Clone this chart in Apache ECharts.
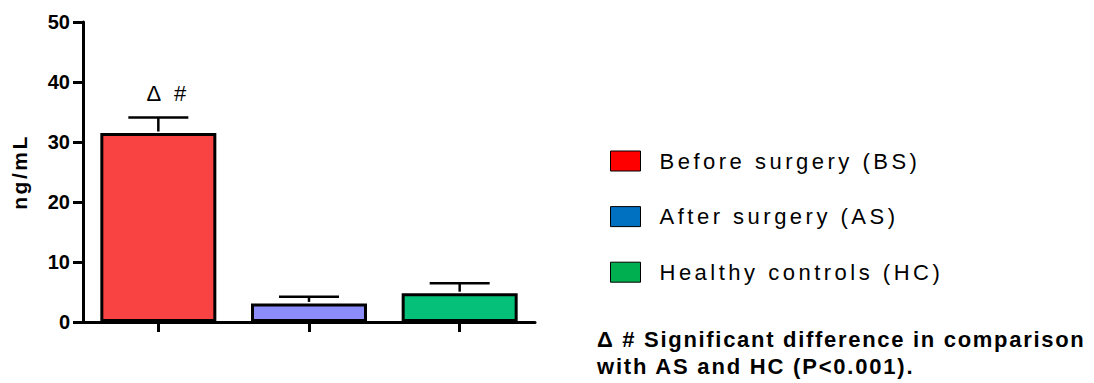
<!DOCTYPE html>
<html>
<head>
<meta charset="utf-8">
<script src="https://cdn.jsdelivr.net/npm/echarts@6/dist/echarts.min.js"></script>
<style>html,body{margin:0;padding:0;background:#fff}#c{width:1094px;height:383px}</style>
</head>
<body>
<div id="c"></div>
<script>
var categories = ['BS', 'AS', 'HC'];
var seriesNames = ['Before surgery (BS)', 'After surgery (AS)', 'Healthy controls (HC)'];
var means = [31.5, 3.1, 4.8];
var upperErr = [34.1, 4.2, 6.45];
var annotations = ['\u0394 #', '', ''];
var yTicks = [0, 10, 20, 30, 40, 50];
var barColors = ['#F94343', '#8C8CFB', '#05C079'];
var legendColors = ['#FF0000', '#0070C0', '#00B050'];
var footnoteLines = ['\u0394 # Significant difference in comparison', 'with AS and HC (P<0.001).'];

var FONT = '"Liberation Sans", Arial, sans-serif';
var chart = echarts.init(document.getElementById('c'), null, { renderer: 'svg' });
var barSeries = seriesNames.map(function (name, i) {
  return {
    name: name,
    type: 'bar',
    barWidth: 116,
    barGap: '-100%',
    itemStyle: { color: barColors[i], borderColor: '#000', borderWidth: 3 },
    data: categories.map(function (c, j) { return j === i ? means[j] : '-'; }),
    z: 2
  };
});
var errData = categories.map(function (c, i) { return [i, means[i], upperErr[i], annotations[i]]; });

chart.setOption({
  animation: false,
  grid: { left: 83, right: 559, top: 22, bottom: 61, containLabel: false },
  legend: {
    orient: 'vertical', left: 610, top: 150, padding: 0,
    itemWidth: 30, itemHeight: 20, itemGap: 33.6,
    icon: 'rect',
    textStyle: { fontFamily: FONT, fontSize: 22, color: '#000', padding: [0, 0, 0, 14] },
    data: seriesNames.map(function (n, i) {
      return { name: n, itemStyle: { color: legendColors[i], borderColor: '#000', borderWidth: 1 } };
    })
  },
  xAxis: {
    type: 'category', data: categories,
    axisLine: { lineStyle: { color: '#000', width: 3 } },
    axisTick: { show: true, interval: 0, alignWithLabel: true, length: 10, lineStyle: { color: '#000', width: 3 } },
    axisLabel: { show: false },
    splitLine: { show: false }
  },
  yAxis: {
    type: 'value', min: yTicks[0], max: yTicks[yTicks.length - 1], interval: 10,
    name: 'ng/mL', nameLocation: 'middle', nameGap: 53,
    nameTextStyle: { fontFamily: FONT, fontWeight: 'bold', fontSize: 21, color: '#000' },
    axisLine: { show: true, lineStyle: { color: '#000', width: 3 } },
    axisTick: { show: true, length: 10, lineStyle: { color: '#000', width: 3 } },
    axisLabel: { fontFamily: FONT, fontWeight: 'bold', fontSize: 20, color: '#000', margin: 13 },
    splitLine: { show: false }
  },
  graphic: [
    { type: 'text', left: 597, top: 328, style: { text: footnoteLines[0], font: 'bold 22px ' + FONT, fill: '#000' } },
    { type: 'text', left: 597, top: 355, style: { text: footnoteLines[1], font: 'bold 22px ' + FONT, fill: '#000' } }
  ],
  series: barSeries.concat([{
    type: 'custom',
    name: 'err',
    data: errData,
    z: 3,
    renderItem: function (params, api) {
      var base = api.coord([api.value(0), api.value(1)]);
      var top = api.coord([api.value(0), api.value(2)]);
      var half = 30;
      var children = [
        { type: 'line', shape: { x1: base[0], y1: base[1] - 1.5, x2: top[0], y2: top[1] }, style: { stroke: '#000', lineWidth: 2.5 } },
        { type: 'line', shape: { x1: top[0] - half, y1: top[1], x2: top[0] + half, y2: top[1] }, style: { stroke: '#000', lineWidth: 2.5 } }
      ];
      var ann = errData[params.dataIndex][3];
      if (ann) {
        children.push({ type: 'text', x: top[0] + 10, y: top[1] - 24,
          style: { text: ann, font: '22px ' + FONT, fill: '#000', align: 'center', verticalAlign: 'middle' } });
      }
      return { type: 'group', children: children };
    }
  }])
});

var spacingByText = {};
seriesNames.forEach(function (n) { spacingByText[n] = '3.5px'; });
spacingByText[footnoteLines[0]] = '1.7px';
spacingByText[footnoteLines[1]] = '1.8px';
spacingByText['ng/mL'] = '2.5px';
spacingByText['\u0394 #'] = '4px';
function applySpacing() {
  var texts = document.querySelectorAll('#c svg text');
  for (var i = 0; i < texts.length; i++) {
    var t = texts[i].textContent;
    if (spacingByText[t]) texts[i].style.letterSpacing = spacingByText[t];
  }
}
chart.on('finished', applySpacing);
applySpacing();
setTimeout(applySpacing, 50);
setTimeout(applySpacing, 300);
</script>
</body>
</html>
